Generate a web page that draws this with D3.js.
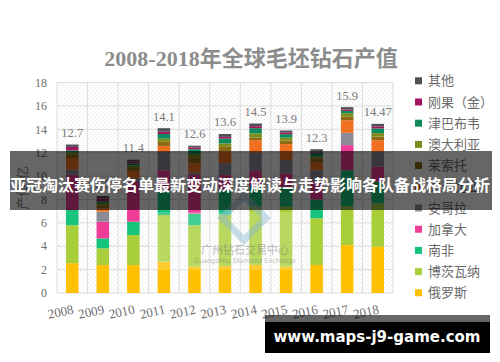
<!DOCTYPE html>
<html>
<head>
<meta charset="utf-8">
<script src="https://cdn.jsdelivr.net/npm/d3@7"></script>
<style>
  body { margin: 0; background: #fff; }
  svg { display: block; }
</style>
</head>
<body>
<svg width="500" height="362"></svg>
<script>
// ---- data (亿美元) ----
var years = ["2008", "2009", "2010", "2011", "2012", "2013", "2014", "2015", "2016", "2017", "2018"];

var russia    = [2.55, 2.39, 2.39, 2.68, 2.25, 2.3, 2.4, 2.25, 2.4, 4.1, 3.96];
var botswana  = [3.25, 1.43, 2.57, 3.99, 3.55, 4.4, 5.0, 5.13, 4.0, 3.3, 3.71];
var southAfr  = [1.3, 0.85, 1.14, 2.13, 1.0, 2.1, 1.7, 1.7, 1.6, 3.1, 1.83];
var canada    = [3.0, 1.43, 3.4, 1.7, 3.3, 1.3, 1.4, 1.15, 1.6, 2.15, 1.3];
var angola    = [0.45, 0.85, 0.35, 1.58, 0.2, 1.0, 1.5, 1.14, 0.9, 1.05, 1.28];
var namibia   = [1.0, 0.3, 0.6, 0.5, 0.8, 1.0, 1.08, 1.37, 0.7, 1.08, 1.0];
var lesotho   = [0.3, 0.25, 0.25, 0.35, 0.5, 0.4, 0.22, 0.3, 0.3, 0.3, 0.3];
var australia = [0.2, 0.2, 0.2, 0.27, 0.3, 0.3, 0.35, 0.25, 0.2, 0.3, 0.3];
var zimbabwe  = [0.15, 0.15, 0.2, 0.4, 0.4, 0.42, 0.45, 0.3, 0.3, 0.2, 0.4];
var drc       = [0.3, 0.25, 0.15, 0.2, 0.15, 0.14, 0.17, 0.15, 0.1, 0.12, 0.17];
var others    = [0.2, 0.2, 0.15, 0.3, 0.15, 0.24, 0.23, 0.16, 0.2, 0.2, 0.22];

var countries = ["俄罗斯", "博茨瓦纳", "南非", "加拿大", "安哥拉", "纳米比亚", "莱索托", "澳大利亚", "津巴布韦", "刚果（金）", "其他"];
var totalLabels = ["12.7", "8.3", "11.4", "14.1", "12.6", "13.6", "14.5", "13.9", "12.3", "15.9", "14.47"];
var yTicks = [0, 2, 4, 6, 8, 10, 12, 14, 16, 18];

var seriesValues = [russia, botswana, southAfr, canada, angola, namibia, lesotho, australia, zimbabwe, drc, others];
var palette = ["#ffc000", "#a8cf3a", "#17c47c", "#ee3c97", "#8c8c96", "#f07022", "#8e6a14", "#7d8b1a", "#0e8a5c", "#a5145f", "#4f4f55"];

// table for d3.stack
var rows = years.map(function (y, i) {
  var r = { year: y };
  countries.forEach(function (c, k) { r[c] = seriesValues[k][i]; });
  return r;
});

var svg = d3.select("svg");
var color = d3.scaleOrdinal().domain(countries).range(palette);

var x = d3.scaleBand().domain(years).range([57, 393]).paddingInner(0.59).paddingOuter(0.295);
var y = d3.scaleLinear().domain([0, 18]).range([293, 82.6]);

// hatch background of the plot area
var defs = svg.append("defs");
defs.append("pattern")
  .attr("id", "hatch")
  .attr("patternUnits", "userSpaceOnUse")
  .attr("width", 4).attr("height", 4)
  .append("path")
  .attr("d", "M-1,1 l2,-2 M0,4 l4,-4 M3,5 l2,-2")
  .attr("stroke", "#ebebeb").attr("stroke-width", 0.8);

svg.append("rect")
  .attr("x", 57).attr("y", y(18))
  .attr("width", 336).attr("height", y(0) - y(18))
  .attr("fill", "url(#hatch)");

// gridlines
svg.append("g").selectAll("line").data(yTicks).enter().append("line")
  .attr("x1", 57).attr("x2", 393)
  .attr("y1", function (d) { return y(d); }).attr("y2", function (d) { return y(d); })
  .attr("stroke", "#dcdcdc");

var step = x.step();
svg.append("g").selectAll("line").data(d3.range(years.length + 1)).enter().append("line")
  .attr("x1", function (k) { return 57 + k * step; }).attr("x2", function (k) { return 57 + k * step; })
  .attr("y1", y(18)).attr("y2", y(0))
  .attr("stroke", "#dcdcdc");

// title
svg.append("text")
  .attr("x", 251).attr("y", 66)
  .attr("text-anchor", "middle")
  .attr("font-family", "'Liberation Serif', 'Noto Sans CJK SC', serif")
  .attr("font-weight", "bold")
  .attr("font-size", 22)
  .attr("fill", "#8c8c8c")
  .text("2008-2018年全球毛坯钻石产值");

// y axis labels
svg.append("g").selectAll("text").data(yTicks).enter().append("text")
  .attr("x", 47).attr("y", function (d) { return y(d); })
  .attr("dy", "0.35em")
  .attr("text-anchor", "end")
  .attr("font-family", "'Liberation Serif', serif")
  .attr("font-size", 12)
  .attr("fill", "#6e6e6e")
  .text(function (d) { return d; });

svg.append("text")
  .attr("transform", "translate(22," + (y(0) + y(18)) / 2 + ") rotate(-90)")
  .attr("text-anchor", "middle").attr("dy", "0.35em")
  .attr("font-family", "'Noto Sans CJK SC', sans-serif")
  .attr("font-size", 13)
  .attr("fill", "#7f7f7f")
  .text("产值-亿");

// x axis labels, slightly tilted
svg.append("g").selectAll("text").data(years).enter().append("text")
  .attr("transform", function (d) {
    return "translate(" + (x(d) + x.bandwidth() / 2 + 1) + ",309) rotate(-12)";
  })
  .attr("dy", "0.35em")
  .attr("text-anchor", "end")
  .attr("font-family", "'Liberation Serif', serif")
  .attr("font-size", 13)
  .attr("fill", "#6e6e6e")
  .text(function (d) { return d; });

// stacked bars
var stacked = d3.stack().keys(countries)(rows);
svg.append("g").selectAll("g").data(stacked).enter().append("g")
  .attr("fill", function (d) { return color(d.key); })
  .selectAll("rect").data(function (d) { return d; }).enter().append("rect")
  .attr("x", function (d) { return x(d.data.year); })
  .attr("width", x.bandwidth())
  .attr("y", function (d) { return y(d[1]); })
  .attr("height", function (d) { return y(d[0]) - y(d[1]); });

// total labels
var tops = stacked[stacked.length - 1];
svg.append("g").selectAll("text").data(tops).enter().append("text")
  .attr("x", function (d) { return x(d.data.year) + x.bandwidth() / 2; })
  .attr("y", function (d) { return y(d[1]) - 12; })
  .attr("dy", "0.35em")
  .attr("text-anchor", "middle")
  .attr("font-family", "'Liberation Serif', serif")
  .attr("font-size", 12.5)
  .attr("fill", "#7a7a7a")
  .text(function (d, i) { return totalLabels[i]; });

// legend (last series on top)
var legend = svg.append("g").selectAll("g").data(countries.slice().reverse()).enter().append("g")
  .attr("transform", function (d, i) { return "translate(415," + (80.8 + i * 21.2) + ")"; });
legend.append("rect")
  .attr("x", 0).attr("y", -3.5).attr("width", 7).attr("height", 7)
  .attr("fill", function (d) { return color(d); });
legend.append("text")
  .attr("x", 13).attr("dy", "0.35em")
  .attr("font-family", "'Noto Sans CJK SC', sans-serif")
  .attr("font-size", 13)
  .attr("fill", "#6a6a6a")
  .text(function (d) { return d; });

// watermark of the source
var wm = svg.append("g").attr("opacity", 0.55);
wm.append("rect")
  .attr("x", 150).attr("y", 212).attr("width", 150).attr("height", 58)
  .attr("fill", "#fff").attr("opacity", 0.35);
wm.append("path")
  .attr("d", "M244,196 L266,218 L244,240 L222,218 Z")
  .attr("fill", "none").attr("stroke", "#9fc3dc").attr("stroke-width", 7);
wm.append("text")
  .attr("x", 245).attr("y", 254)
  .attr("text-anchor", "middle")
  .attr("font-family", "'Noto Sans CJK SC', sans-serif")
  .attr("font-size", 11)
  .attr("fill", "#8a8a8a")
  .text("广州钻石交易中心");
wm.append("text")
  .attr("x", 245).attr("y", 263)
  .attr("text-anchor", "middle")
  .attr("font-family", "'DejaVu Sans', sans-serif")
  .attr("font-size", 6.5)
  .attr("fill", "#8a8a8a")
  .text("Guangzhou Diamond Exchange");

// headline banner over the chart
svg.append("rect")
  .attr("x", 10).attr("y", 151).attr("width", 482).attr("height", 59)
  .attr("fill", "#000").attr("opacity", 0.6);
svg.append("text")
  .attr("x", 250).attr("y", 185)
  .attr("dy", "0.35em")
  .attr("text-anchor", "middle")
  .attr("font-family", "'Noto Sans CJK SC', sans-serif")
  .attr("font-weight", "bold")
  .attr("font-size", 16)
  .attr("fill", "#fff")
  .text("亚冠淘汰赛伤停名单最新变动深度解读与走势影响各队备战格局分析");

// site tag, bottom right
svg.append("rect")
  .attr("x", 265).attr("y", 315).attr("width", 225).attr("height", 7)
  .attr("fill", "#000").attr("opacity", 0.6);
svg.append("rect")
  .attr("x", 265).attr("y", 322).attr("width", 225).attr("height", 31)
  .attr("fill", "#000");
svg.append("text")
  .attr("x", 377).attr("y", 337)
  .attr("dy", "0.35em")
  .attr("text-anchor", "middle")
  .attr("font-family", "'DejaVu Sans', sans-serif")
  .attr("font-weight", "bold")
  .attr("font-size", 15)
  .attr("fill", "#fff")
  .text("www.maps-j9-game.com");
</script>
</body>
</html>
